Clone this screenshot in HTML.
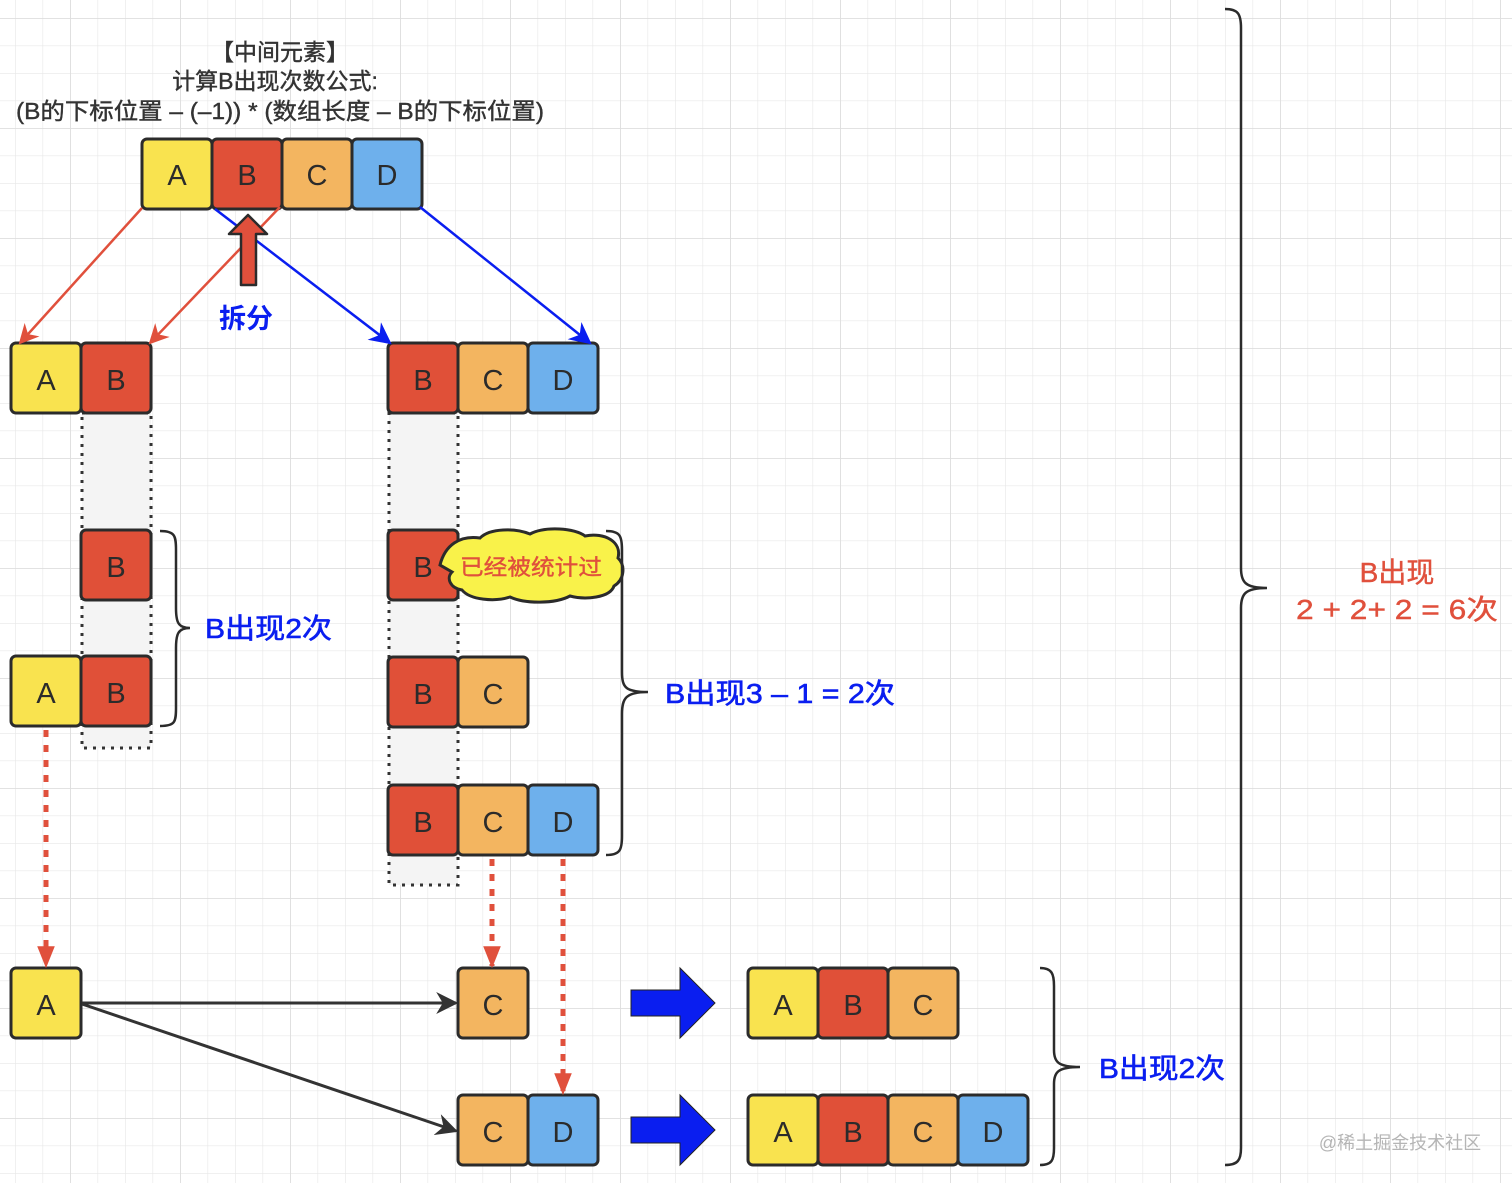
<!DOCTYPE html>
<html><head><meta charset="utf-8"><style>
html,body{margin:0;padding:0;background:#fff}
svg{display:block}
text{font-family:"Liberation Sans","Noto Sans CJK SC",sans-serif}
</style></head><body>
<svg width="1512" height="1183" viewBox="0 0 1512 1183" xmlns="http://www.w3.org/2000/svg">
<defs>
<pattern id="g" x="15" y="18" width="27.5" height="27.5" patternUnits="userSpaceOnUse">
<path d="M0 0H27.5M0 0V27.5" stroke="#e8e8e8" stroke-width="1.3" fill="none"/>
</pattern>
<pattern id="G" x="70" y="18" width="110" height="110" patternUnits="userSpaceOnUse">
<path d="M0 0H110M0 0V110" stroke="#dedede" stroke-width="1.8" fill="none"/>
</pattern>
<marker id="mR" viewBox="0 0 10 10" refX="9" refY="5" markerWidth="20" markerHeight="20" orient="auto" markerUnits="userSpaceOnUse"><path d="M0 0L10 5L0 10L3 5z" fill="#e0503c"/></marker>
<marker id="mB" viewBox="0 0 10 10" refX="9" refY="5" markerWidth="22" markerHeight="22" orient="auto" markerUnits="userSpaceOnUse"><path d="M0 0L10 5L0 10L3 5z" fill="#0a1ef0"/></marker>
<marker id="mK" viewBox="0 0 10 10" refX="9" refY="5" markerWidth="22" markerHeight="22" orient="auto" markerUnits="userSpaceOnUse"><path d="M0 0L10 5L0 10L3 5z" fill="#333"/></marker>
<marker id="mD" viewBox="0 0 10 10" refX="9" refY="5" markerWidth="22" markerHeight="30" orient="auto" markerUnits="userSpaceOnUse"><path d="M0 1L10 5L0 9z" fill="#e0503c"/></marker>
</defs>
<rect width="1512" height="1183" fill="url(#g)"/>
<rect width="1512" height="1183" fill="url(#G)"/>

<rect x="82" y="413" width="69" height="335" fill="#f4f4f4" stroke="#333" stroke-width="3" stroke-dasharray="3 6"/>
<rect x="389" y="413" width="69" height="472" fill="#f4f4f4" stroke="#333" stroke-width="3" stroke-dasharray="3 6"/>

<g stroke="#2b2b2b" stroke-width="3">
<rect x="142" y="139" width="70" height="70" rx="5" fill="#f9e34f"/>
<rect x="212" y="139" width="70" height="70" rx="5" fill="#e05038"/>
<rect x="282" y="139" width="70" height="70" rx="5" fill="#f3b560"/>
<rect x="352" y="139" width="70" height="70" rx="5" fill="#6eb0ec"/>
<rect x="11" y="343" width="70" height="70" rx="5" fill="#f9e34f"/>
<rect x="81" y="343" width="70" height="70" rx="5" fill="#e05038"/>
<rect x="388" y="343" width="70" height="70" rx="5" fill="#e05038"/>
<rect x="458" y="343" width="70" height="70" rx="5" fill="#f3b560"/>
<rect x="528" y="343" width="70" height="70" rx="5" fill="#6eb0ec"/>
<rect x="81" y="530" width="70" height="70" rx="5" fill="#e05038"/>
<rect x="11" y="656" width="70" height="70" rx="5" fill="#f9e34f"/>
<rect x="81" y="656" width="70" height="70" rx="5" fill="#e05038"/>
<rect x="388" y="530" width="70" height="70" rx="5" fill="#e05038"/>
<rect x="388" y="657" width="70" height="70" rx="5" fill="#e05038"/>
<rect x="458" y="657" width="70" height="70" rx="5" fill="#f3b560"/>
<rect x="388" y="785" width="70" height="70" rx="5" fill="#e05038"/>
<rect x="458" y="785" width="70" height="70" rx="5" fill="#f3b560"/>
<rect x="528" y="785" width="70" height="70" rx="5" fill="#6eb0ec"/>
<rect x="11" y="968" width="70" height="70" rx="5" fill="#f9e34f"/>
<rect x="458" y="968" width="70" height="70" rx="5" fill="#f3b560"/>
<rect x="458" y="1095" width="70" height="70" rx="5" fill="#f3b560"/>
<rect x="528" y="1095" width="70" height="70" rx="5" fill="#6eb0ec"/>
<rect x="748" y="968" width="70" height="70" rx="5" fill="#f9e34f"/>
<rect x="818" y="968" width="70" height="70" rx="5" fill="#e05038"/>
<rect x="888" y="968" width="70" height="70" rx="5" fill="#f3b560"/>
<rect x="748" y="1095" width="70" height="70" rx="5" fill="#f9e34f"/>
<rect x="818" y="1095" width="70" height="70" rx="5" fill="#e05038"/>
<rect x="888" y="1095" width="70" height="70" rx="5" fill="#f3b560"/>
<rect x="958" y="1095" width="70" height="70" rx="5" fill="#6eb0ec"/>
</g>

<g font-size="29" fill="#2b2b2b" text-anchor="middle">
<text x="177" y="185">A</text><text x="247" y="185">B</text><text x="317" y="185">C</text><text x="387" y="185">D</text>
<text x="46" y="390">A</text><text x="116" y="390">B</text>
<text x="423" y="390">B</text><text x="493" y="390">C</text><text x="563" y="390">D</text>
<text x="116" y="577">B</text>
<text x="46" y="703">A</text><text x="116" y="703">B</text>
<text x="423" y="577">B</text>
<text x="423" y="704">B</text><text x="493" y="704">C</text>
<text x="423" y="832">B</text><text x="493" y="832">C</text><text x="563" y="832">D</text>
<text x="46" y="1015">A</text><text x="493" y="1015">C</text>
<text x="493" y="1142">C</text><text x="563" y="1142">D</text>
<text x="783" y="1015">A</text><text x="853" y="1015">B</text><text x="923" y="1015">C</text>
<text x="783" y="1142">A</text><text x="853" y="1142">B</text><text x="923" y="1142">C</text><text x="993" y="1142">D</text>
</g>

<g font-size="23" fill="#333" text-anchor="middle" stroke="#333" stroke-width="0.4">
<text x="280" y="60">【中间元素】</text>
<text x="275" y="89">计算B出现次数公式:</text>
<text x="280" y="119" textLength="528" lengthAdjust="spacingAndGlyphs">(B的下标位置 – (–1)) * (数组长度 – B的下标位置)</text>
</g>

<line x1="142" y1="208" x2="20" y2="343" stroke="#e0503c" stroke-width="2.5" marker-end="url(#mR)"/>
<line x1="280" y1="207" x2="150" y2="343" stroke="#e0503c" stroke-width="2.5" marker-end="url(#mR)"/>
<line x1="215" y1="209" x2="390" y2="343" stroke="#0a1ef0" stroke-width="2.5" marker-end="url(#mB)"/>
<line x1="420" y1="207" x2="590" y2="343" stroke="#0a1ef0" stroke-width="2.5" marker-end="url(#mB)"/>
<path d="M248 215L267 234H256V285H241V234H229Z" fill="#e0503c" stroke="#2b2b2b" stroke-width="2.5" stroke-linejoin="round"/>
<text x="246" y="328" font-size="27" font-weight="bold" fill="#0a1ef0" text-anchor="middle">拆分</text>

<path d="M440 565 C445 545 460 535 480 538 C490 528 515 528 530 534 C545 526 575 528 585 536 C605 532 622 542 618 558 C626 566 624 580 614 586 C610 598 585 600 570 596 C555 604 525 604 510 597 C495 602 470 600 462 590 C450 588 446 578 452 572 Z" fill="#f9f24a" stroke="#2b2b2b" stroke-width="3"/>
<text x="531" y="575" font-size="22" fill="#e0503c" text-anchor="middle" stroke="#e0503c" stroke-width="0.4" textLength="142" lengthAdjust="spacingAndGlyphs">已经被统计过</text>

<g fill="none" stroke="#2b2b2b" stroke-width="2.5">
<path d="M160 531 C175 531 176 536 176 550 V608 C176 622 178 628 190 628 C178 628 176 634 176 648 V708 C176 722 175 726 160 726"/>
<path d="M606 531 C620 531 622 536 622 550 V672 C622 688 626 692 648 692 C626 692 622 698 622 714 V836 C622 850 620 855 606 855"/>
<path d="M1040 968 C1052 968 1054 974 1054 986 V1050 C1054 1062 1058 1067 1080 1067 C1058 1067 1054 1072 1054 1084 V1148 C1054 1160 1052 1165 1040 1165"/>
<path d="M1225 9 C1238 9 1241 14 1241 28 V568 C1241 582 1245 588 1267 588 C1245 588 1241 594 1241 608 V1148 C1241 1160 1238 1165 1225 1165"/>
</g>
<g font-size="28" fill="#0a1ef0" stroke="#0a1ef0" stroke-width="0.6">
<text x="205" y="638" textLength="127" lengthAdjust="spacingAndGlyphs">B出现2次</text>
<text x="665" y="703" textLength="230" lengthAdjust="spacingAndGlyphs">B出现3 – 1 = 2次</text>
<text x="1099" y="1078" textLength="126" lengthAdjust="spacingAndGlyphs">B出现2次</text>
</g>
<g font-size="28" fill="#e0503c" text-anchor="middle" stroke="#e0503c" stroke-width="0.4">
<text x="1397" y="582">B出现</text>
<text x="1397" y="619" textLength="202" lengthAdjust="spacingAndGlyphs">2 + 2+ 2 = 6次</text>
</g>

<g stroke="#e0503c" stroke-width="5" stroke-dasharray="7 8" fill="none">
<line x1="46" y1="730" x2="46" y2="966" marker-end="url(#mD)"/>
<line x1="492" y1="859" x2="492" y2="966" marker-end="url(#mD)"/>
<line x1="563" y1="859" x2="563" y2="1093" marker-end="url(#mD)"/>
</g>

<line x1="82" y1="1003" x2="456" y2="1003" stroke="#333" stroke-width="3" marker-end="url(#mK)"/>
<line x1="82" y1="1004" x2="456" y2="1131" stroke="#333" stroke-width="3" marker-end="url(#mK)"/>

<path d="M631 990H680V968L715 1003L680 1038V1016H631Z" fill="#0a1ef0" stroke="#222" stroke-width="1"/>
<path d="M631 1117H680V1095L715 1130L680 1165V1143H631Z" fill="#0a1ef0" stroke="#222" stroke-width="1"/>

<text x="1400" y="1149" font-size="18" fill="#b5b5b5" text-anchor="middle">@稀土掘金技术社区</text>
</svg>
</body></html>
